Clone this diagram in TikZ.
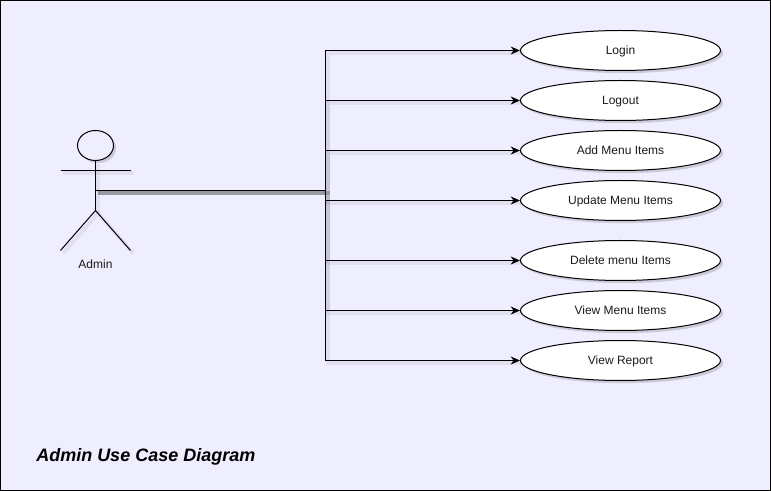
\documentclass[tikz,border=0pt]{standalone}
\usepackage{xcolor}
\usepackage{fontspec}
\setmainfont{Liberation Sans}
\usetikzlibrary{shapes.geometric, arrows.meta, positioning, calc, shadows}
\definecolor{framefill}{RGB}{238, 238, 255}
\definecolor{labelgray}{RGB}{26, 26, 26}
\tikzset{
  linkshadow/.style={preaction={draw=black, opacity=0.06, line width=3pt, -, transform canvas={shift={(2pt,-2pt)}}}},
  usecase/.style={ellipse, draw=black, line width=0.75pt, fill=white, text=labelgray, font=\fontsize{9}{11}\selectfont,
    text height=7.3pt, text depth=2pt,
    minimum width=150pt, minimum height=30pt, inner sep=0pt,
    drop shadow={shadow xshift=2pt, shadow yshift=-2pt, opacity=0.15, fill=black}},
  link/.style={draw=black, line width=0.75pt, -{Stealth[length=7pt, width=6pt]}, linkshadow},
  limb/.style={draw=black, line width=0.75pt, linkshadow}
}

\begin{document}
\begin{tikzpicture}[x=0.75pt, y=-0.75pt]
  \useasboundingbox (0,0) rectangle (771,491);

  % Frame
  \draw[fill=framefill, line width=1.1pt] (0.7,0.7) rectangle (770.3,490.3);

  % Junction of the connectors
  \coordinate (actor) at (95.5,190.5);
  \coordinate (trunk) at (325.5,190.5);

  % Use cases
  \foreach \y/\name/\txt in {50.5/login/Login, 100.5/logout/Logout, 150.5/addItems/Add Menu Items,
      200.5/updateItems/Update Menu Items, 260.5/deleteItems/Delete menu Items,
      310.5/viewItems/View Menu Items, 360.5/viewReport/View Report} {
    \node[usecase] (\name) at (620.5,\y) {\txt};
  }

  % Connectors
  \foreach \name in {login, logout, addItems, updateItems, deleteItems, viewItems, viewReport} {
    \draw[link] (actor) -- (trunk) |- (\name.west);
  }

  % Actor
  \node[ellipse, draw=black, line width=0.75pt, fill=framefill, minimum width=27pt, minimum height=22.5pt, inner sep=0pt,
    drop shadow={shadow xshift=2pt, shadow yshift=-2pt, opacity=0.15, fill=black}] (head) at (95.5,145.5) {};
  \coordinate (armL) at (60.5,170.5);
  \coordinate (armR) at (130.5,170.5);
  \coordinate (hip) at (95.5,210.5);
  \coordinate (legL) at (60.5,250.5);
  \coordinate (legR) at (130.5,250.5);
  \draw[limb] (head.south) -- (hip);
  \draw[limb] (armL) -- (armR);
  \draw[limb] (legL) -- (hip) -- (legR);
  \node[text=labelgray, font=\fontsize{9}{11}\selectfont, text height=7.3pt, text depth=2pt] (actorlabel) at (95.5,264.5) {Admin};

  % Title
  \node[right, inner sep=0pt, font=\fontsize{13.5}{16}\selectfont\bfseries\itshape] (title) at (36,457) {Admin Use Case Diagram};
\end{tikzpicture}
\end{document}
